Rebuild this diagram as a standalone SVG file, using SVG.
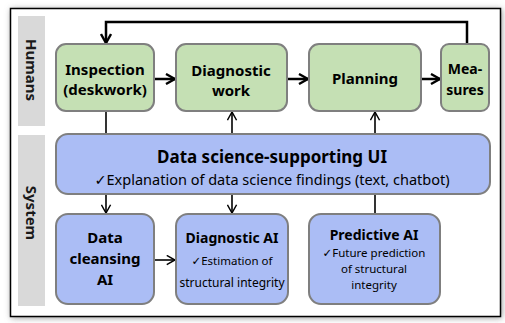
<svg xmlns="http://www.w3.org/2000/svg" width="505" height="323" viewBox="0 0 505 323">
<defs>
<filter id="sh" x="-5%" y="-5%" width="110%" height="110%">
<feGaussianBlur stdDeviation="3"/>
</filter>
<marker id="ah" viewBox="0 0 12 12" refX="11" refY="6" markerWidth="12" markerHeight="12" markerUnits="userSpaceOnUse" orient="auto">
<path d="M2,1 L11,6 L2,11" fill="none" stroke="#000" stroke-width="2.4"/>
</marker>
<marker id="ahs" viewBox="0 0 12 12" refX="11" refY="6" markerWidth="11" markerHeight="11" markerUnits="userSpaceOnUse" orient="auto">
<path d="M2,1 L11,6 L2,11" fill="none" stroke="#000" stroke-width="1.6"/>
</marker>
</defs>
<style>
.t{font-family:"Noto Sans","Open Sans","DejaVu Sans",sans-serif;fill:#000;text-anchor:middle}
.b{font-weight:bold}
.g{fill:#c5e0b4;stroke:#7f7f7f;stroke-width:2}
.u{fill:#abbdf5;stroke:#7f7f7f;stroke-width:2}
.lane{fill:#d9d9d9}
.c{fill:none;stroke:#000;stroke-width:2.5}
.cs{fill:none;stroke:#000;stroke-width:1.6}
.lbl{font-family:"Noto Sans","Open Sans",sans-serif;font-weight:bold;font-size:15px;fill:#1a1a1a;text-anchor:middle}
</style>
<rect x="0" y="0" width="505" height="323" fill="#fff"/>
<rect x="11" y="9" width="491" height="309" fill="#9a9a9a" filter="url(#sh)"/>
<rect x="10.5" y="8.5" width="490" height="308" fill="#fff" stroke="#000" stroke-width="1.5"/>
<g id="lane-humans">
<rect class="lane" x="18" y="16" width="27" height="110"/>
<text class="lbl" transform="translate(26,70) rotate(90)">Humans</text>
</g>
<g id="lane-system">
<rect class="lane" x="18" y="135" width="27" height="171"/>
<text class="lbl" transform="translate(26,213) rotate(90)">System</text>
</g>
<g id="connectors">
<path class="c" d="M467,44 V22 H106 V43" marker-end="url(#ah)"/>
<path class="c" d="M154,79 H175" marker-end="url(#ah)"/>
<path class="c" d="M287,79 H308" marker-end="url(#ah)"/>
<path class="c" d="M421,79 H440" marker-end="url(#ah)"/>
<path class="cs" d="M106,111 V134"/>
<path class="cs" d="M232,134 V112" marker-end="url(#ahs)"/>
<path class="cs" d="M375,134 V112" marker-end="url(#ahs)"/>
<path class="cs" d="M106,194 V213" marker-end="url(#ahs)"/>
<path class="cs" d="M232,194 V213" marker-end="url(#ahs)"/>
<path class="cs" d="M375,194 V214"/>
<path class="cs" d="M154,260 H175" marker-end="url(#ahs)"/>
</g>
<g id="inspection">
<rect class="g" x="56" y="44" width="98" height="67" rx="10"/>
<text class="t b" x="105" y="75" font-size="15">Inspection</text>
<text class="t b" x="105" y="95" font-size="15">(deskwork)</text>
</g>
<g id="diagnostic-work">
<rect class="g" x="176" y="44" width="111" height="67" rx="10"/>
<text class="t b" x="231" y="76" font-size="15">Diagnostic</text>
<text class="t b" x="231" y="96" font-size="15">work</text>
</g>
<g id="planning">
<rect class="g" x="309" y="44" width="112" height="67" rx="10"/>
<text class="t b" x="365" y="84" font-size="15">Planning</text>
</g>
<g id="measures">
<rect class="g" x="441" y="44" width="48" height="67" rx="8"/>
<text class="t b" x="465" y="74" font-size="14">Mea-</text>
<text class="t b" x="465" y="95" font-size="14">sures</text>
</g>
<g id="ui">
<rect class="u" x="56" y="134" width="434" height="60" rx="12"/>
<text class="t b" x="272" y="163" font-size="17">Data science-supporting UI</text>
<text class="t" x="272" y="185" font-size="14.5">✓Explanation of data science findings (text, chatbot)</text>
</g>
<g id="data-cleansing">
<rect class="u" x="56" y="214" width="98" height="90" rx="12"/>
<text class="t b" x="105" y="243" font-size="15">Data</text>
<text class="t b" x="105" y="264" font-size="15">cleansing</text>
<text class="t b" x="105" y="285" font-size="15">AI</text>
</g>
<g id="diagnostic-ai">
<rect class="u" x="176" y="214" width="112" height="90" rx="12"/>
<text class="t b" x="232" y="243" font-size="14">Diagnostic AI</text>
<text class="t" x="232" y="265" font-size="11.5">✓Estimation of</text>
<text class="t" x="232" y="287" font-size="12">structural integrity</text>
</g>
<g id="predictive-ai">
<rect class="u" x="309" y="214" width="131" height="90" rx="12"/>
<text class="t b" x="374" y="240" font-size="14">Predictive AI</text>
<text class="t" x="374" y="257" font-size="11.5">✓Future prediction</text>
<text class="t" x="374" y="273" font-size="11.5">of  structural</text>
<text class="t" x="374" y="289" font-size="11.5">integrity</text>
</g>
</svg>
